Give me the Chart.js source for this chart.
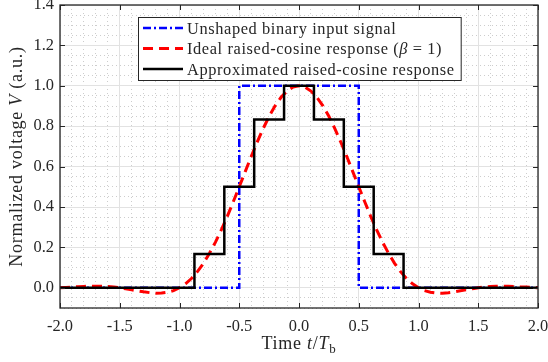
<!DOCTYPE html>
<html>
<head>
<meta charset="utf-8">
<script src="https://cdn.jsdelivr.net/npm/chart.js@4/dist/chart.umd.min.js"></script>
<style>
  html, body { margin: 0; padding: 0; background: #fff; }
</style>
</head>
<body>
<canvas id="chart" width="548" height="362"></canvas>
<script>
// --- data (t / Tb on x, normalized voltage on y) ---

// unshaped binary input: each value holds from its t to the next t
const inputT = [-2.0, -0.5, 0.5, 2.0];
const inputV = [0, 1, 0, 0];

// ideal raised-cosine response, beta = 1
const idealT = [
  -2.00, -1.95, -1.90, -1.85, -1.80, -1.75, -1.70, -1.65, -1.60, -1.55,
  -1.50, -1.45, -1.40, -1.35, -1.30, -1.25, -1.20, -1.15, -1.10, -1.05,
  -1.00, -0.95, -0.90, -0.85, -0.80, -0.75, -0.70, -0.65, -0.60, -0.55,
  -0.50, -0.45, -0.40, -0.35, -0.30, -0.25, -0.20, -0.15, -0.10, -0.05,
  0.00,
  0.05, 0.10, 0.15, 0.20, 0.25, 0.30, 0.35, 0.40, 0.45, 0.50,
  0.55, 0.60, 0.65, 0.70, 0.75, 0.80, 0.85, 0.90, 0.95, 1.00,
  1.05, 1.10, 1.15, 1.20, 1.25, 1.30, 1.35, 1.40, 1.45, 1.50,
  1.55, 1.60, 1.65, 1.70, 1.75, 1.80, 1.85, 1.90, 1.95, 2.00
];
const idealV = [
  0.000, 0.002, 0.004, 0.005, 0.007, 0.008, 0.008, 0.008, 0.006, 0.004,
  0.000, -0.005, -0.010, -0.015, -0.020, -0.024, -0.027, -0.026, -0.022, -0.014,
  0.000, 0.020, 0.046, 0.080, 0.121, 0.170, 0.225, 0.287, 0.354, 0.426,
  0.500, 0.575, 0.650, 0.721, 0.788, 0.849, 0.901, 0.943, 0.974, 0.994,
  1.000,
  0.994, 0.974, 0.943, 0.901, 0.849, 0.788, 0.721, 0.650, 0.575, 0.500,
  0.426, 0.354, 0.287, 0.225, 0.170, 0.121, 0.080, 0.046, 0.020, 0.000,
  -0.014, -0.022, -0.026, -0.027, -0.024, -0.020, -0.015, -0.010, -0.005, 0.000,
  0.004, 0.006, 0.008, 0.008, 0.008, 0.007, 0.005, 0.004, 0.002, 0.000
];

// approximated staircase response: each level holds from its t to the next t
const approxT = [-2.0, -0.875, -0.625, -0.375, -0.125, 0.125, 0.375, 0.625, 0.875, 2.0];
const approxV = [0, 0.167, 0.5, 0.833, 1.0, 0.833, 0.5, 0.167, 0, 0];

// axis limits and grid steps
const xLimits = [-2, 2];
const yLimits = [-0.1, 1.4];
const xMajor = 0.5, xMinor = 0.1;
const yMajor = 0.2, yMinor = 0.05;

// legend entries (rich text pieces, italic where the source uses math)
const legendLabels = [
  [{ t: 'Unshaped binary input signal' }],
  [{ t: 'Ideal raised-cosine response (' }, { t: '\u03B2', it: true }, { t: ' = 1)' }],
  [{ t: 'Approximated raised-cosine response' }]
];
const xTitle = [{ t: 'Time ' }, { t: 't', it: true }, { t: '/' }, { t: 'T', it: true }, { t: 'b', sub: true }];
const yTitle = [{ t: 'Normalized voltage ' }, { t: 'V', it: true }, { t: ' (a.u.)' }];

// --- helpers ---
const serif = "'Liberation Serif', 'Times New Roman', serif";
const ink = '#262626';

const toXY = (ts, vs) => ts.map((t, i) => ({ x: t, y: vs[i] }));
const onStep = (v, step) => Math.abs(v / step - Math.round(v / step)) < 1e-6;

function richFont(p, size) {
  const s = p.sub ? size * 0.72 : size;
  return (p.it ? 'italic ' : '') + s + 'px ' + serif;
}
function richWidth(ctx, parts, size) {
  let w = 0;
  parts.forEach(p => { ctx.font = richFont(p, size); w += ctx.measureText(p.t).width; });
  return w;
}
function drawRich(ctx, parts, x, y, size) {
  parts.forEach(p => {
    ctx.font = richFont(p, size);
    ctx.fillText(p.t, x, y + (p.sub ? size * 0.22 : 0));
    x += ctx.measureText(p.t).width;
  });
}

const lineStyles = [
  { color: '#0000ff', width: 2.5, dash: [8, 3, 2, 3] },
  { color: '#ff0000', width: 3, dash: [10, 6] },
  { color: '#000000', width: 2.5, dash: [] }
];

// frame, inward major ticks, legend and axis titles
const decorations = {
  id: 'decorations',
  afterDatasetsDraw(chart) {
    const { ctx, chartArea: a, scales } = chart;
    ctx.save();
    ctx.letterSpacing = '0.6px';

    // major tick marks, inside, on all four sides
    ctx.strokeStyle = ink;
    ctx.lineWidth = 1;
    const tl = 5;
    scales.x.ticks.filter(t => onStep(t.value, xMajor)).forEach(t => {
      const px = Math.round(scales.x.getPixelForValue(t.value)) + 0.5;
      ctx.beginPath();
      ctx.moveTo(px, a.bottom); ctx.lineTo(px, a.bottom - tl);
      ctx.moveTo(px, a.top); ctx.lineTo(px, a.top + tl);
      ctx.stroke();
    });
    scales.y.ticks.filter(t => onStep(t.value, yMajor)).forEach(t => {
      const py = Math.round(scales.y.getPixelForValue(t.value)) + 0.5;
      ctx.beginPath();
      ctx.moveTo(a.left, py); ctx.lineTo(a.left + tl, py);
      ctx.moveTo(a.right, py); ctx.lineTo(a.right - tl, py);
      ctx.stroke();
    });

    // box around the axes
    ctx.lineWidth = 1.3;
    ctx.strokeRect(a.left, a.top, a.right - a.left, a.bottom - a.top);

    // legend
    const fs = 16.4;
    const rowH = 20.5;
    const textW = Math.max(...legendLabels.map(l => richWidth(ctx, l, fs)));
    const boxW = textW + 55;
    const boxH = rowH * legendLabels.length + 1.5;
    const bx = Math.round((a.left + a.right) / 2 - boxW / 2);
    const by = a.top + 12;
    ctx.fillStyle = '#fff';
    ctx.fillRect(bx, by, boxW, boxH);
    ctx.strokeStyle = ink;
    ctx.lineWidth = 1;
    ctx.strokeRect(bx + 0.5, by + 0.5, boxW, boxH);
    legendLabels.forEach((l, i) => {
      const cy = by + 11 + i * rowH;
      const st = lineStyles[i];
      ctx.beginPath();
      ctx.setLineDash(st.dash);
      ctx.strokeStyle = st.color;
      ctx.lineWidth = st.width;
      ctx.moveTo(bx + 5, cy); ctx.lineTo(bx + 45, cy);
      ctx.stroke();
      ctx.setLineDash([]);
      ctx.fillStyle = ink;
      ctx.textBaseline = 'alphabetic';
      drawRich(ctx, l, bx + 49, cy + 5.5, fs);
    });

    // axis titles
    const ts = 18;
    ctx.letterSpacing = '0.75px';
    ctx.fillStyle = ink;
    const xw = richWidth(ctx, xTitle, ts);
    drawRich(ctx, xTitle, (a.left + a.right) / 2 - xw / 2, 349, ts);
    ctx.translate(22, (a.top + a.bottom) / 2);
    ctx.rotate(-Math.PI / 2);
    const yw = richWidth(ctx, yTitle, ts);
    drawRich(ctx, yTitle, -yw / 2, 0, ts);
    ctx.restore();
  }
};

const gridColor = (step) => (c) => onStep(c.tick.value, step) ? '#e2e2e2' : '#cdcdcd';
const gridDash = (step) => (c) => onStep(c.tick.value, step) ? [] : [1, 3];

new Chart(document.getElementById('chart'), {
  type: 'line',
  data: {
    datasets: [
      {
        label: 'Approximated raised-cosine response',
        data: toXY(approxT, approxV),
        borderColor: lineStyles[2].color,
        borderWidth: lineStyles[2].width,
        stepped: 'before',
        borderJoinStyle: 'miter',
        order: 0
      },
      {
        label: 'Ideal raised-cosine response',
        data: toXY(idealT, idealV),
        borderColor: lineStyles[1].color,
        borderWidth: lineStyles[1].width,
        borderDash: lineStyles[1].dash,
        order: 1
      },
      {
        label: 'Unshaped binary input signal',
        data: toXY(inputT, inputV),
        borderColor: lineStyles[0].color,
        borderWidth: lineStyles[0].width,
        borderDash: lineStyles[0].dash,
        stepped: 'before',
        borderJoinStyle: 'miter',
        order: 2
      }
    ]
  },
  options: {
    responsive: false,
    animation: false,
    devicePixelRatio: 1,
    layout: { padding: { left: 0, top: 5, right: 10, bottom: 0 } },
    elements: { point: { radius: 0 }, line: { tension: 0, fill: false } },
    plugins: { legend: { display: false }, tooltip: { enabled: false } },
    scales: {
      x: {
        type: 'linear',
        min: xLimits[0],
        max: xLimits[1],
        afterFit: s => { s.height = 54; s.paddingLeft = 0; s.paddingRight = 0; },
        ticks: {
          stepSize: xMinor,
          autoSkip: false,
          maxRotation: 0,
          padding: 9,
          color: ink,
          font: { family: serif, size: 16.4 },
          callback: v => onStep(v, xMajor) ? v.toFixed(1) : ''
        },
        grid: { drawTicks: false, color: gridColor(xMajor), lineWidth: 1 },
        border: { display: false, dash: gridDash(xMajor) }
      },
      y: {
        min: yLimits[0],
        max: yLimits[1],
        afterFit: s => { s.width = 60; s.paddingTop = 0; s.paddingBottom = 0; },
        ticks: {
          stepSize: yMinor,
          autoSkip: false,
          padding: 6,
          color: ink,
          font: { family: serif, size: 16.4 },
          callback: v => onStep(v, yMajor) ? v.toFixed(1) : ''
        },
        grid: { drawTicks: false, color: gridColor(yMajor), lineWidth: 1 },
        border: { display: false, dash: gridDash(yMajor) }
      }
    }
  },
  plugins: [decorations]
});
</script>
</body>
</html>
